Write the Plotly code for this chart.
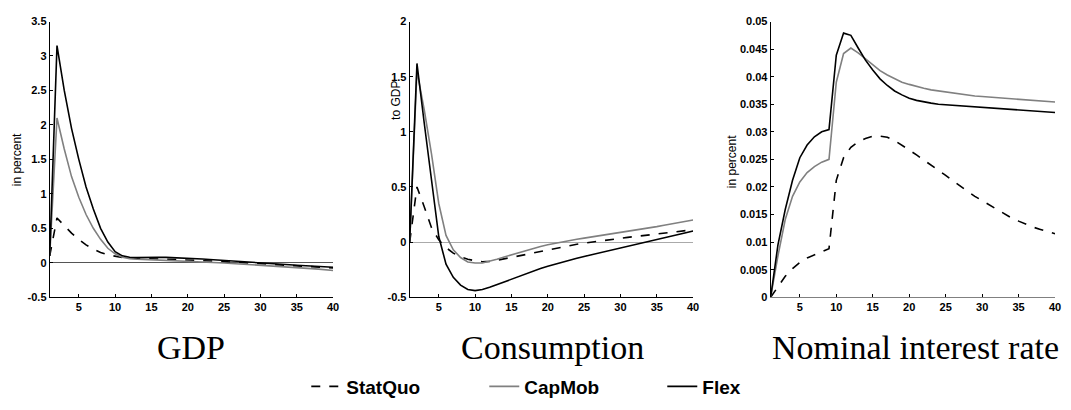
import plotly.graph_objects as go
from plotly.subplots import make_subplots

periods = list(range(1, 41))

# GDP, in percent
gdp_statquo = [0.1, 0.65, 0.54, 0.43, 0.34, 0.26, 0.2, 0.15, 0.115, 0.09,
               0.075, 0.065, 0.06, 0.058, 0.056, 0.054, 0.052, 0.049, 0.046, 0.042,
               0.038, 0.033, 0.028, 0.022, 0.016, 0.01, 0.004, -0.002, -0.008, -0.014,
               -0.02, -0.026, -0.032, -0.038, -0.044, -0.05, -0.056, -0.062, -0.068, -0.075]
gdp_capmob = [0.1, 2.1, 1.65, 1.25, 0.95, 0.7, 0.5, 0.34, 0.21, 0.13,
              0.08, 0.06, 0.052, 0.048, 0.045, 0.042, 0.038, 0.034, 0.03, 0.025,
              0.02, 0.014, 0.008, 0.002, -0.004, -0.01, -0.016, -0.022, -0.028, -0.034,
              -0.041, -0.048, -0.055, -0.062, -0.069, -0.077, -0.085, -0.093, -0.102, -0.112]
gdp_flex = [0.1, 3.15, 2.5, 1.95, 1.5, 1.1, 0.78, 0.5, 0.3, 0.16,
            0.1, 0.08, 0.075, 0.08, 0.08, 0.08, 0.078, 0.075, 0.07, 0.065,
            0.06, 0.055, 0.048, 0.04, 0.033, 0.025, 0.018, 0.01, 0.003, -0.004,
            -0.01, -0.017, -0.023, -0.03, -0.036, -0.042, -0.048, -0.054, -0.06, -0.066]

# Consumption, to GDP
cons_statquo = [0.0, 0.5, 0.32, 0.13, 0.02, -0.05, -0.1, -0.135, -0.155, -0.17,
                -0.178, -0.175, -0.165, -0.152, -0.138, -0.124, -0.11, -0.096, -0.082, -0.068,
                -0.055, -0.043, -0.031, -0.02, -0.01, 0.0, 0.008, 0.017, 0.026, 0.035,
                0.043, 0.05, 0.057, 0.064, 0.071, 0.079, 0.087, 0.095, 0.103, 0.112]
cons_capmob = [0.0, 1.55, 1.2, 0.8, 0.35, 0.06, -0.07, -0.14, -0.18, -0.19,
               -0.19, -0.175, -0.155, -0.135, -0.115, -0.095, -0.076, -0.058, -0.04, -0.024,
               -0.01, 0.003, 0.015, 0.026, 0.036, 0.046, 0.056, 0.066, 0.075, 0.09,
               0.1, 0.11, 0.12, 0.13, 0.14, 0.152, 0.164, 0.176, 0.188, 0.2]
cons_flex = [0.0, 1.62, 1.08, 0.55, 0.05, -0.2, -0.32, -0.39, -0.43, -0.44,
             -0.43, -0.41, -0.385, -0.36, -0.335, -0.31, -0.285, -0.26, -0.24, -0.22,
             -0.2, -0.18, -0.163, -0.146, -0.13, -0.115, -0.1, -0.086, -0.072, -0.058,
             -0.042, -0.026, -0.011, 0.004, 0.02, 0.036, 0.052, 0.068, 0.084, 0.1]

# Nominal interest rate, in percent
rate_statquo = [0.0, 0.002, 0.0038, 0.0052, 0.0063, 0.0071, 0.0077, 0.0082, 0.0088, 0.0212,
                0.0253, 0.0272, 0.0282, 0.0288, 0.0292, 0.0292, 0.029, 0.0284, 0.0276, 0.0267,
                0.0258, 0.0249, 0.024, 0.023, 0.0221, 0.0211, 0.0201, 0.0192, 0.0183, 0.0175,
                0.0167, 0.0159, 0.0151, 0.0144, 0.0138, 0.0132, 0.0127, 0.0123, 0.0119, 0.0115]
rate_capmob = [0.0, 0.0075, 0.0141, 0.0183, 0.0209, 0.0226, 0.0237, 0.0245, 0.025, 0.039,
               0.0442, 0.0452, 0.0443, 0.0432, 0.0421, 0.0411, 0.0403, 0.0396, 0.039, 0.0386,
               0.0382, 0.0379, 0.0376, 0.0374, 0.0372, 0.037, 0.0368, 0.0366, 0.0365, 0.0364,
               0.0363, 0.0362, 0.0361, 0.036, 0.0359, 0.0358, 0.0357, 0.0356, 0.0355, 0.0354]
rate_flex = [0.0, 0.0095, 0.0159, 0.0212, 0.0253, 0.0276, 0.0291, 0.03, 0.0304, 0.0439,
             0.0479, 0.0475, 0.0452, 0.043, 0.0412, 0.0396, 0.0384, 0.0374, 0.0367, 0.0361,
             0.0357, 0.0354, 0.0352, 0.035, 0.0349, 0.0348, 0.0347, 0.0346, 0.0345, 0.0344,
             0.0343, 0.0342, 0.0341, 0.034, 0.0339, 0.0338, 0.0337, 0.0336, 0.0336, 0.0335]

panel_titles = ["GDP", "Consumption", "Nominal interest rate"]
y_titles = ["in percent", "to GDP", "in percent"]
x_ticks = [5, 10, 15, 20, 25, 30, 35, 40]
y_ticks_gdp = [-0.5, 0, 0.5, 1, 1.5, 2, 2.5, 3, 3.5]
y_ticks_cons = [-0.5, 0, 0.5, 1, 1.5, 2]
y_ticks_rate = [0, 0.005, 0.01, 0.015, 0.02, 0.025, 0.03, 0.035, 0.04, 0.045, 0.05]
y_ticklabels_gdp = ["-0.5", "0", "0.5", "1", "1.5", "2", "2.5", "3", "3.5"]
y_ticklabels_cons = ["-0.5", "0", "0.5", "1", "1.5", "2"]
y_ticklabels_rate = ["0", "0.005", "0.01", "0.015", "0.02", "0.025", "0.03",
                     "0.035", "0.04", "0.045", "0.05"]

W, H = 1071, 410
GRAY = "#808080"

fig = make_subplots(rows=1, cols=3)

series = [
    ("StatQuo", dict(color="black", width=1.6, dash="dash")),
    ("CapMob", dict(color=GRAY, width=1.6)),
    ("Flex", dict(color="black", width=1.6)),
]
panels = [
    (gdp_statquo, gdp_capmob, gdp_flex),
    (cons_statquo, cons_capmob, cons_flex),
    (rate_statquo, rate_capmob, rate_flex),
]
for col, data in enumerate(panels, start=1):
    for (name, line), vals in zip(series, data):
        fig.add_trace(go.Scatter(x=periods, y=vals, mode="lines", name=name,
                                 line=line, showlegend=(col == 1)),
                      row=1, col=col)

# plot areas in pixels
x_px = [(50, 335), (412, 697), (775, 1061)]
y_top, y_bot = 16, 300
tick_font = dict(family="Liberation Sans, Arial", size=11, color="black")
xtick_font = dict(family="Liberation Sans Narrow, Liberation Sans, Arial", size=11,
                  color="black")

y_ranges = [[-0.5, 3.5], [-0.5, 2], [0, 0.05]]
y_tickvals = [y_ticks_gdp, y_ticks_cons, y_ticks_rate]
y_ticktext = [y_ticklabels_gdp, y_ticklabels_cons, y_ticklabels_rate]
zero_colors = ["#555555", "#aaaaaa", GRAY]

for i in range(3):
    xa = "xaxis" if i == 0 else f"xaxis{i + 1}"
    ya = "yaxis" if i == 0 else f"yaxis{i + 1}"
    fig.layout[xa].update(
        domain=[x_px[i][0] / W, x_px[i][1] / W], range=[1, 40],
        tickvals=x_ticks, ticktext=[f"<b>{v}</b>" for v in x_ticks],
        ticks="inside", ticklen=3, tickcolor="black",
        showline=True, linecolor=GRAY if i == 2 else "black", linewidth=1,
        showgrid=False, zeroline=False, tickfont=xtick_font,
    )
    fig.layout[ya].update(
        domain=[1 - y_bot / H, 1 - y_top / H], range=y_ranges[i],
        tickvals=y_tickvals[i], ticktext=[f"<b>{t}</b>" for t in y_ticktext[i]],
        ticks="inside", ticklen=3, tickcolor="black",
        showline=True, linecolor="black", linewidth=1, showgrid=False,
        zeroline=True, zerolinecolor=zero_colors[i], zerolinewidth=1,
        tickfont=tick_font,
    )

# panel titles below the plots
title_x = [192, 556, 921]
for tx, t in zip(title_x, panel_titles):
    fig.add_annotation(text=t, x=tx / W, y=1 - 352 / H, xref="paper", yref="paper",
                       showarrow=False, xanchor="center", yanchor="middle",
                       font=dict(family="Liberation Serif, Times New Roman", size=34,
                                 color="black"))

# y axis labels
ylab_pos = [(17, 158), (398, 97), (736, 160)]
for (lx, ly), t in zip(ylab_pos, y_titles):
    fig.add_annotation(text=t, x=lx / W, y=1 - ly / H, xref="paper", yref="paper",
                       showarrow=False, textangle=-90, xanchor="center", yanchor="middle",
                       font=dict(family="Liberation Sans, Arial", size=12, color="black"))

fig.update_layout(
    width=W, height=H,
    margin=dict(l=0, r=0, t=0, b=0),
    paper_bgcolor="white", plot_bgcolor="white",
    showlegend=True,
    legend=dict(orientation="h", x=308 / W, y=1 - 392 / H, xanchor="left", yanchor="middle",
                font=dict(family="Liberation Sans, Arial", size=19, color="black",
                          weight="bold"),
                entrywidth=133, entrywidthmode="pixels", bgcolor="rgba(0,0,0,0)"),
)

fig.write_html("out.html", config={"displayModeBar": False},
               post_script="document.body.style.margin='0px';")
